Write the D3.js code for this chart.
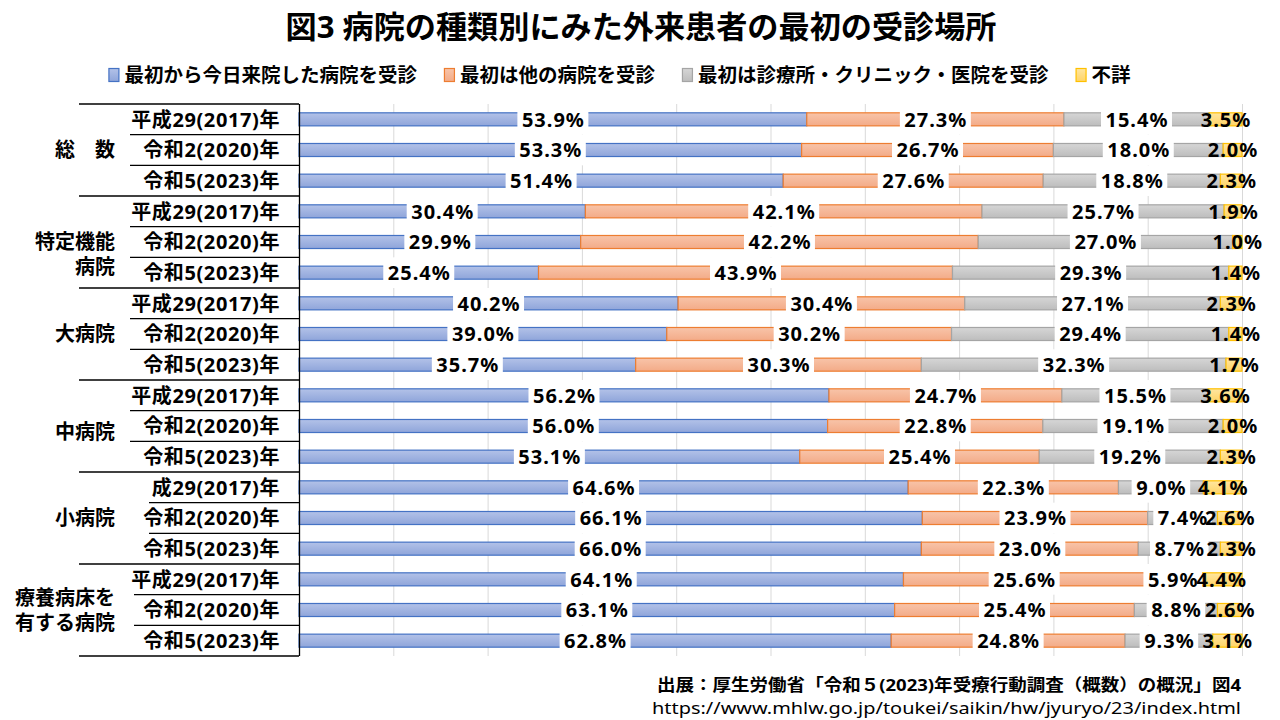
<!DOCTYPE html>
<html><head><meta charset="utf-8">
<script src="https://cdn.jsdelivr.net/npm/d3@7"></script>
<style>
html,body{margin:0;padding:0;background:#fff;}
svg{display:block;}
text{font-family:"Noto Sans","Noto Sans CJK JP",sans-serif;}
</style></head><body>
<svg id="chart" width="1280" height="720"></svg>
<script>
// ---- data ----
const title = "図3 病院の種類別にみた外来患者の最初の受診場所";
const seriesNames = ["最初から今日来院した病院を受診","最初は他の病院を受診","最初は診療所・クリニック・医院を受診","不詳"];
const groups = ["総　数","特定機能\n病院","大病院","中病院","小病院","療養病床を\n有する病院"];
const yearLabels = [
 "平成29(2017)年","令和2(2020)年","令和5(2023)年",
 "平成29(2017)年","令和2(2020)年","令和5(2023)年",
 "平成29(2017)年","令和2(2020)年","令和5(2023)年",
 "平成29(2017)年","令和2(2020)年","令和5(2023)年",
 "成29(2017)年","令和2(2020)年","令和5(2023)年",
 "平成29(2017)年","令和2(2020)年","令和5(2023)年"];
const sameHospital = [53.9,53.3,51.4, 30.4,29.9,25.4, 40.2,39.0,35.7, 56.2,56.0,53.1, 64.6,66.1,66.0, 64.1,63.1,62.8];
const otherHospital = [27.3,26.7,27.6, 42.1,42.2,43.9, 30.4,30.2,30.3, 24.7,22.8,25.4, 22.3,23.9,23.0, 25.6,25.4,24.8];
const clinic = [15.4,18.0,18.8, 25.7,27.0,29.3, 27.1,29.4,32.3, 15.5,19.1,19.2, 9.0,7.4,8.7, 5.9,8.8,9.3];
const unknown = [3.5,2.0,2.3, 1.9,1.0,1.4, 2.3,1.4,1.7, 3.6,2.0,2.3, 4.1,2.6,2.3, 4.4,2.6,3.1];
const sourceLine1 = "出展：厚生労働省「令和５(2023)年受療行動調査（概数）の概況」図4";
const sourceLine2 = "https://www.mhlw.go.jp/toukei/saikin/hw/jyuryo/23/index.html";

// ---- layout ----
const svg = d3.select("#chart");
const X0 = 299, X1 = 1242, Y0 = 104, Y1 = 656;
const series = [sameHospital, otherHospital, clinic, unknown];
const fills = [["#b3c2e8","#8fa5da"],["#f8c4a9","#f3ab88"],["#d6d6d6","#bdbdbd"],["#ffe6a0","#ffd466"]];
const strokes = ["#4472c4","#ed7d31","#a5a5a5","#ffc000"];

const defs = svg.append("defs");
fills.forEach((f,i)=>{
  const g = defs.append("linearGradient").attr("id","g"+i).attr("x1",0).attr("y1",0).attr("x2",0).attr("y2",1);
  g.append("stop").attr("offset","0%").attr("stop-color",f[0]);
  g.append("stop").attr("offset","100%").attr("stop-color",f[1]);
});

const rows = d3.range(yearLabels.length);
const y = d3.scaleBand().domain(rows).range([Y0,Y1]).paddingInner(0.575).paddingOuter(0.2875);
const x = d3.scaleLinear().domain([0,1]).range([X0,X1]);
const step = y.step();

// Title
svg.append("text").attr("x",641).attr("y",38).attr("text-anchor","middle")
  .attr("font-size",31).attr("font-weight","bold").attr("fill","#000")
  .attr("font-family","Noto Sans CJK JP")
  .attr("textLength",711).attr("lengthAdjust","spacingAndGlyphs").text(title);

// Legend
const leg = svg.append("g");
let lx = 0;
const legGap = 27;
seriesNames.forEach((n,i)=>{
  const g = leg.append("g");
  g.append("rect").attr("x",lx+0.5).attr("y",68.5).attr("width",10).attr("height",13)
    .attr("fill","url(#g"+i+")").attr("stroke",strokes[i]).attr("stroke-width",1.2);
  const t = g.append("text").attr("x",lx+16).attr("y",82).attr("font-size",19.5).attr("font-weight","bold")
    .attr("font-family","Noto Sans CJK JP").text(n);
  const w = t.node().getComputedTextLength();
  lx += 16 + w + legGap;
});
const legW = lx - legGap;
leg.attr("transform",`translate(${619.5 - legW/2},0)`);

// Gridlines
const ticks = d3.range(1,11).map(d=>d/10);
svg.append("g").selectAll("line").data(ticks).join("line")
  .attr("x1",d=>x(d)+0.5).attr("x2",d=>x(d)+0.5).attr("y1",Y0).attr("y2",Y1)
  .attr("stroke","#d9d9d9").attr("stroke-width",1);

// Stacked bars
const totals = rows.map(r=>series.reduce((s,a)=>s+a[r],0));
const segs = [];
rows.forEach(r=>{
  let c = 0;
  series.forEach((a,i)=>{
    segs.push({r,i,v:a[r],x0:c/totals[r],x1:(c+a[r])/totals[r]});
    c += a[r];
  });
});
svg.append("g").selectAll("rect").data(segs).join("rect")
  .attr("x",d=>x(d.x0)).attr("width",d=>x(d.x1)-x(d.x0))
  .attr("y",d=>y(d.r)).attr("height",y.bandwidth())
  .attr("fill",d=>"url(#g"+d.i+")").attr("stroke",d=>strokes[d.i]).attr("stroke-width",1.2);

// Labels
const lab = svg.append("g");
segs.forEach(d=>{
  const cx = x((d.x0+d.x1)/2);
  const cy = y(d.r)+y.bandwidth()/2;
  const g = lab.append("g");
  const t = g.append("text").attr("x",cx+0.5).attr("y",cy).attr("dy","0.36em")
    .attr("text-anchor","middle").attr("font-size",20).attr("font-weight","bold").attr("fill","#000")
    .attr("letter-spacing","1px")
    .text(d.v.toFixed(1)+"%");
  if(d.i<3){
    const w = t.node().getComputedTextLength();
    g.insert("rect","text").attr("x",cx-w/2-4).attr("y",y(d.r)+y.bandwidth()/2-step/2)
      .attr("width",w+8).attr("height",step).attr("fill","#fff");
  }
});

// Table on left
const tbl = svg.append("g");
tbl.append("line").attr("x1",X0+0.5).attr("x2",X0+0.5).attr("y1",Y0).attr("y2",Y1).attr("stroke","#000").attr("stroke-width",1.3);
const innerStart = [130,130,130,130,149,134];
d3.range(yearLabels.length+1).forEach(k=>{
  const yy = Y0 + k*step;
  const gi = Math.min(Math.floor(k/3),5);
  const x1 = (k%3===0) ? 79 : innerStart[gi];
  tbl.append("line").attr("x1",x1).attr("x2",X0).attr("y1",yy).attr("y2",yy).attr("stroke","#000").attr("stroke-width",1.3);
});
rows.forEach(r=>{
  tbl.append("text").attr("x",280).attr("y",y(r)+y.bandwidth()/2).attr("dy","0.36em")
    .attr("text-anchor","end").attr("font-size",20).attr("font-weight","bold")
    .attr("letter-spacing","0.6px").text(yearLabels[r]);
});
const lineOffsets = [[0],[0,25],[0],[6],[0],[-12.5,12.5]];
groups.forEach((gname,gi)=>{
  const cy = y(gi*3+1)+y.bandwidth()/2;
  gname.split("\n").forEach((ln,li)=>{
    tbl.append("text").attr("x",115).attr("y",cy+lineOffsets[gi][li]).attr("dy","0.36em")
      .attr("text-anchor","end").attr("font-size",20).attr("font-weight","bold")
      .attr("font-family","Noto Sans CJK JP").text(ln);
  });
});

// Source
svg.append("text").attr("x",1241).attr("y",691).attr("text-anchor","end")
  .attr("font-size",16.5).attr("font-weight","bold").attr("font-family","Noto Sans CJK JP")
  .attr("textLength",584).attr("lengthAdjust","spacingAndGlyphs").text(sourceLine1);
svg.append("text").attr("x",1241).attr("y",714).attr("text-anchor","end")
  .attr("font-size",17).attr("font-weight","normal")
  .attr("textLength",589).attr("lengthAdjust","spacingAndGlyphs").text(sourceLine2);
</script>
</body></html>
